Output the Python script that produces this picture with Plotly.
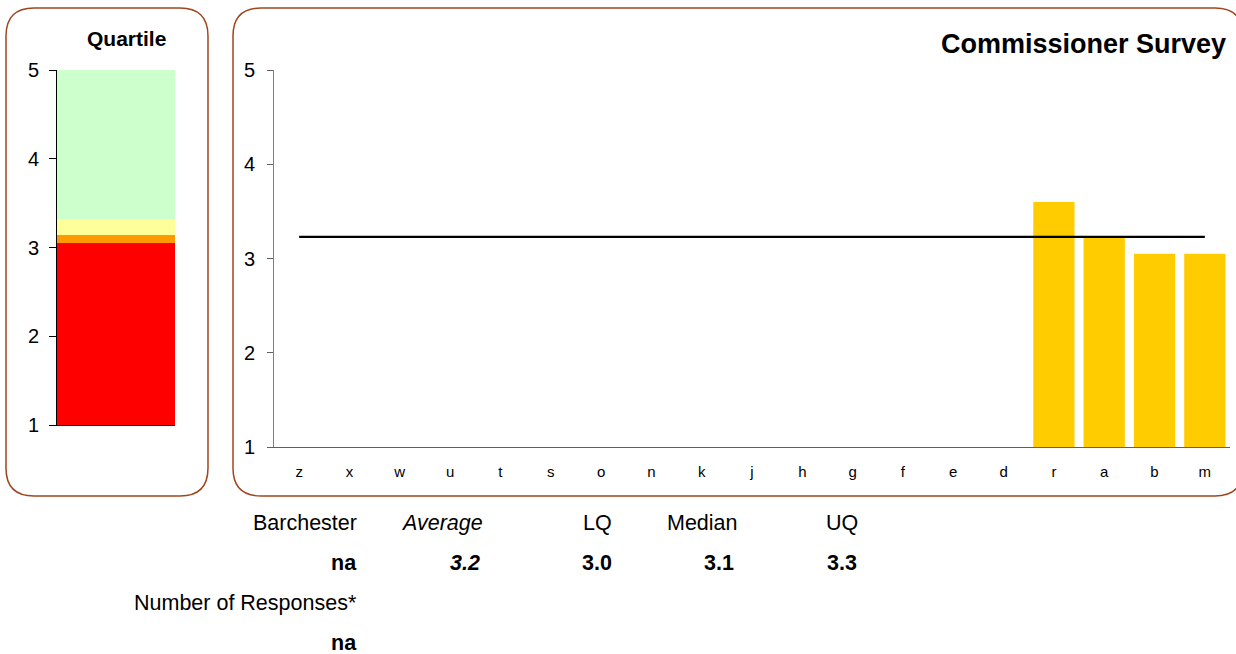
import plotly.graph_objects as go

# ---- data -------------------------------------------------------------
categories = ["z", "x", "w", "u", "t", "s", "o", "n", "k", "j", "h", "g",
              "f", "e", "d", "r", "a", "b", "m"]
scores = [None, None, None, None, None, None, None, None, None, None, None,
          None, None, None, None, 3.60, 3.23, 3.05, 3.05]

average = 3.23
lower_quartile = 3.05
median = 3.14
upper_quartile = 3.32
scale_min, scale_max = 1, 5

barchester_score = "na"
responses = "na"

# ---- geometry helpers (pixel -> paper) --------------------------------
W, H = 1236, 654


def px(x):
    return x / W


def py(y):
    return 1 - y / H


def rounded_rect(x0, y0, x1, y1, r):
    pts = [
        ("M", x0 + r, y0), ("L", x1 - r, y0), ("Q", x1, y0, x1, y0 + r),
        ("L", x1, y1 - r), ("Q", x1, y1, x1 - r, y1),
        ("L", x0 + r, y1), ("Q", x0, y1, x0, y1 - r),
        ("L", x0, y0 + r), ("Q", x0, y0, x0 + r, y0),
    ]
    out = []
    for p in pts:
        cmd, coords = p[0], p[1:]
        pairs = []
        for i in range(0, len(coords), 2):
            pairs.append(f"{px(coords[i]):.5f},{py(coords[i + 1]):.5f}")
        out.append(cmd + " " + " ".join(pairs))
    return " ".join(out) + " Z"


FONT = "Liberation Sans, Arial, sans-serif"
BORDER = "#A0461E"

fig = go.Figure()

# ---- quartile panel ---------------------------------------------------
bands = [
    (scale_min, lower_quartile, "#FF0000"),
    (lower_quartile, median, "#FF9900"),
    (median, upper_quartile, "#FFFF99"),
    (upper_quartile, scale_max, "#CCFFCC"),
]
for lo, hi, col in bands:
    fig.add_trace(go.Bar(
        x=[0], y=[hi - lo], base=[lo], width=[1],
        marker=dict(color=col, line=dict(width=0)),
        xaxis="x", yaxis="y", showlegend=False, hoverinfo="skip",
    ))

# ---- survey panel -----------------------------------------------------
fig.add_trace(go.Bar(
    x=categories, y=[None if v is None else v - scale_min for v in scores],
    base=scale_min,
    marker=dict(color="#FFCC00", line=dict(width=0)),
    xaxis="x2", yaxis="y2", showlegend=False,
))
fig.add_trace(go.Scatter(
    x=[categories[0], categories[-1]], y=[average, average],
    mode="lines", line=dict(color="black", width=2.2),
    xaxis="x2", yaxis="y2", showlegend=False,
))

fig.update_layout(
    width=W, height=H,
    margin=dict(l=0, r=0, t=0, b=0, pad=0),
    paper_bgcolor="white", plot_bgcolor="rgba(0,0,0,0)",
    barmode="overlay", bargap=0.18,
    font=dict(family=FONT, color="black"),
    xaxis=dict(
        domain=[px(57), px(175)], range=[-0.5, 0.5], automargin=False,
        showticklabels=False, ticks="", showgrid=False, zeroline=False,
        showline=True, linecolor="black", linewidth=1,
    ),
    yaxis=dict(
        domain=[py(425), py(70)], range=[scale_min, scale_max], dtick=1,
        anchor="x", showgrid=False, zeroline=False, automargin=False,
        showline=True, linecolor="black", linewidth=1,
        ticks="outside", ticklen=7, tickcolor="black",
        tickfont=dict(size=20, family=FONT), ticklabelstandoff=6,
    ),
    xaxis2=dict(
        domain=[px(274), px(1230)], anchor="y2", automargin=False,
        range=[-0.5, len(categories) - 0.5],
        showgrid=False, zeroline=False, ticks="",
        showline=True, linecolor="#606060", linewidth=1,
        tickfont=dict(size=15, family=FONT), ticklabelstandoff=11,
    ),
    yaxis2=dict(
        domain=[py(447), py(70)], range=[scale_min, scale_max], dtick=1,
        anchor="x2", showgrid=False, zeroline=False, automargin=False,
        showline=True, linecolor="#808080", linewidth=1,
        ticks="outside", ticklen=6, tickcolor="#606060",
        tickfont=dict(size=20, family=FONT), ticklabelstandoff=8,
    ),
)

# ---- panel borders ----------------------------------------------------
fig.add_shape(type="path", xref="paper", yref="paper",
              path=rounded_rect(6, 8, 208, 496, 28),
              line=dict(color=BORDER, width=1.5), layer="below")
fig.add_shape(type="path", xref="paper", yref="paper",
              path=rounded_rect(233, 8, 1243, 496, 28),
              line=dict(color=BORDER, width=1.5), layer="below")

# ---- titles -----------------------------------------------------------
fig.add_annotation(text="<b>Quartile</b>", x=px(126), y=py(38),
                   xref="paper", yref="paper", showarrow=False,
                   xanchor="center", yanchor="middle",
                   font=dict(size=21, family=FONT))
fig.add_annotation(text="<b>Commissioner Survey</b>", x=px(1228), y=py(44),
                   xref="paper", yref="paper", showarrow=False,
                   xanchor="right", yanchor="middle",
                   font=dict(size=27, family=FONT))

# ---- summary table ----------------------------------------------------
def note(text, x, y, anchor="right"):
    fig.add_annotation(text=text, x=px(x), y=py(y), xref="paper",
                       yref="paper", showarrow=False, xanchor=anchor,
                       yanchor="middle", font=dict(size=21.5, family=FONT))


note("Barchester", 359, 523)
note("<i>Average</i>", 485, 523)
note("LQ", 614, 523)
note("Median", 740, 523)
note("UQ", 860, 523)

note(f"<b>{barchester_score}</b>", 359, 563)
note(f"<b><i>{average:.1f}</i></b>", 482, 563)
note(f"<b>{lower_quartile:.1f}</b>", 614, 563)
note(f"<b>{median:.1f}</b>", 736, 563)
note(f"<b>{upper_quartile:.1f}</b>", 859, 563)

note("Number of Responses*", 359, 603)
note(f"<b>{responses}</b>", 359, 643)

fig.write_html("out.html")
